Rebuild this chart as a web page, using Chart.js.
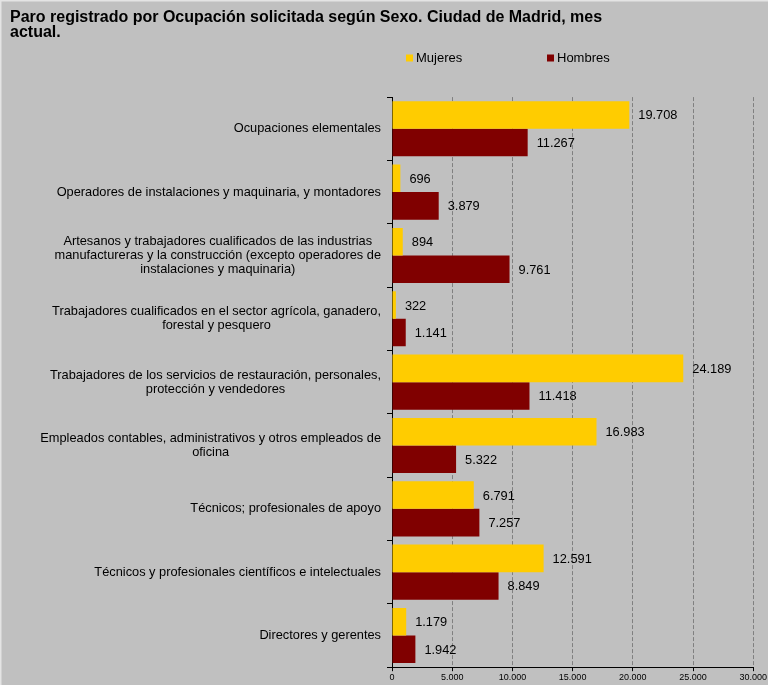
<!DOCTYPE html>
<html>
<head>
<meta charset="utf-8">
<script src="https://cdn.jsdelivr.net/npm/chart.js@4/dist/chart.umd.min.js"></script>
<style>
  body { margin: 0; background: #C0C0C0; }
  canvas { display: block; }
</style>
</head>
<body>
<canvas id="paroChart" width="768" height="685"></canvas>
<script>
const titleLines = ["Paro registrado por Ocupación solicitada según Sexo. Ciudad de Madrid, mes", "actual."];
const categories = [
    "Ocupaciones elementales",
    "Operadores de instalaciones y maquinaria, y montadores",
    ["Artesanos y trabajadores cualificados de las industrias", "manufactureras y la construcción (excepto operadores de", "instalaciones y maquinaria)"],
    ["Trabajadores cualificados en el sector agrícola, ganadero,", "forestal y pesquero"],
    ["Trabajadores de los servicios de restauración, personales,", "protección y vendedores"],
    ["Empleados contables, administrativos y otros empleados de", "oficina"],
    "Técnicos; profesionales de apoyo",
    "Técnicos y profesionales científicos e intelectuales",
    "Directores y gerentes"
];
const mujeres = [19708, 696, 894, 322, 24189, 16983, 6791, 12591, 1179];
const hombres = [11267, 3879, 9761, 1141, 11418, 5322, 7257, 8849, 1942];
const seriesNames = ["Mujeres", "Hombres"];
const xTicks = [0, 5000, 10000, 15000, 20000, 25000, 30000];

const FONT = "'Liberation Sans', Arial, sans-serif";
const TEXT_SIZE = 12.8;
Chart.defaults.font.family = FONT;
Chart.defaults.color = "#000";

// formato español: 19.708
function fmt(v){
    return String(v).replace(/\B(?=(\d{3})+(?!\d))/g, ".");
}

const background = {
    id: "background",
    beforeDraw(chart){
        const ctx = chart.ctx;
        ctx.save();
        ctx.fillStyle = "#C0C0C0";
        ctx.fillRect(0, 0, chart.width, chart.height);
        ctx.strokeStyle = "#E4E4E4";
        ctx.lineWidth = 1.5;
        ctx.beginPath();
        ctx.moveTo(0.75, chart.height);
        ctx.lineTo(0.75, 0.75);
        ctx.lineTo(chart.width, 0.75);
        ctx.stroke();
        ctx.restore();
    }
};

// etiquetas de categoría: bloque alineado a la derecha, líneas centradas
const categoryLabels = {
    id: "categoryLabels",
    afterDraw(chart){
        const ctx = chart.ctx;
        const yScale = chart.scales.y;
        const right = chart.chartArea.left - 11;
        const lh = 13.7;
        ctx.save();
        ctx.font = TEXT_SIZE + "px " + FONT;
        ctx.fillStyle = "#000";
        ctx.textAlign = "center";
        ctx.textBaseline = "middle";
        categories.forEach((cat, i) => {
            const lines = Array.isArray(cat) ? cat : [cat];
            const w = Math.max(...lines.map(l => ctx.measureText(l).width));
            const cx = right - w / 2;
            const y = yScale.getPixelForValue(i);
            lines.forEach((l, k) => {
                ctx.fillText(l, cx, y + (k - (lines.length - 1) / 2) * lh);
            });
        });
        ctx.restore();
    }
};

// valores al final de cada barra
const valueLabels = {
    id: "valueLabels",
    afterDatasetsDraw(chart){
        const ctx = chart.ctx;
        ctx.save();
        ctx.font = TEXT_SIZE + "px " + FONT;
        ctx.fillStyle = "#000";
        ctx.textAlign = "left";
        ctx.textBaseline = "middle";
        chart.data.datasets.forEach((ds, di) => {
            chart.getDatasetMeta(di).data.forEach((bar, i) => {
                ctx.fillText(fmt(ds.data[i]), bar.x + 9, bar.y + 1);
            });
        });
        ctx.restore();
    }
};

// leyenda como en Excel, desplazada a la derecha
const excelLegend = {
    id: "excelLegend",
    afterDraw(chart){
        const ctx = chart.ctx;
        const xs = [406, 547];
        const y = 58;
        ctx.save();
        ctx.font = "13px " + FONT;
        ctx.textBaseline = "middle";
        ctx.textAlign = "left";
        chart.data.datasets.forEach((ds, i) => {
            ctx.fillStyle = ds.backgroundColor;
            ctx.fillRect(xs[i], y - 3.5, 7, 7);
            ctx.fillStyle = "#000";
            ctx.fillText(ds.label, xs[i] + 10, y);
        });
        ctx.restore();
    }
};

const ctx = document.getElementById("paroChart");
const chart = new Chart(ctx, {
    type: "bar",
    data: {
        labels: categories,
        datasets: [
            { label: seriesNames[0], data: mujeres, backgroundColor: "#FFCC00" },
            { label: seriesNames[1], data: hombres, backgroundColor: "#800000" }
        ]
    },
    options: {
        indexAxis: "y",
        responsive: false,
        animation: false,
        categoryPercentage: 0.87,
        barPercentage: 1.0,
        layout: { padding: { left: 10, right: 14, top: 0, bottom: 1 } },
        plugins: {
            legend: { display: false },
            tooltip: { enabled: false },
            title: {
                display: true,
                text: titleLines,
                align: "start",
                color: "#000",
                font: { size: 16, weight: "bold", lineHeight: 0.94 },
                padding: { top: 10, bottom: 57 }
            }
        },
        scales: {
            x: {
                min: 0,
                max: 30000,
                afterBuildTicks(scale){
                    scale.ticks = xTicks.map(v => ({ value: v }));
                },
                ticks: {
                    font: { size: 9 },
                    padding: 1,
                    maxRotation: 0,
                    callback: (v) => fmt(v)
                },
                grid: {
                    color: "#808080",
                    lineWidth: 1,
                    tickColor: "#000",
                    tickLength: 4,
                    tickBorderDash: [],
                    z: -1
                },
                border: { display: true, color: "#000", width: 1, dash: [4, 2] }
            },
            y: {
                afterFit(scale){
                    scale.width = 382;
                },
                ticks: { display: false },
                grid: {
                    drawOnChartArea: false,
                    drawTicks: true,
                    tickLength: 5,
                    color: "#000",
                    tickColor: "#000"
                },
                border: { display: true, color: "#000", width: 1 }
            }
        }
    },
    plugins: [background, categoryLabels, valueLabels, excelLegend]
});
</script>
</body>
</html>
